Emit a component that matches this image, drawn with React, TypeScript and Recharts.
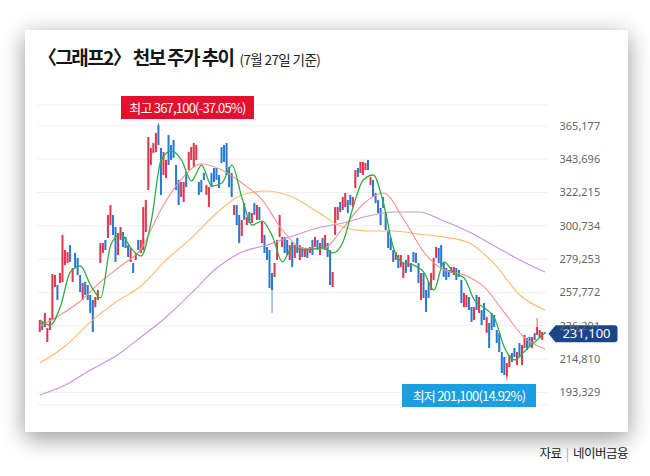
import React from 'react'
import {
  ComposedChart,
  Bar,
  Line,
  XAxis,
  YAxis,
  CartesianGrid,
  ReferenceLine,
} from 'recharts'

// daily candles, oldest first (KRW)
const candleOpen = [
  232200, 238700, 235400, 225800, 233500, 240000, 261200, 262500, 263800, 264500,
  275400, 276700, 288300, 264500, 283200, 280000, 269000, 252900, 264500, 262500,
  256100, 252900, 248300, 252900, 276700, 283200, 291600, 292900, 301200, 307700,
  299900, 281900, 291600, 296700, 293500, 288300, 277400, 276700, 278700, 291600,
  283200, 285100, 296700, 323800, 339900, 347700, 348300, 365700, 350900, 333500,
  331600, 359300, 352800, 356100, 339900, 330300, 319300, 316100, 335400, 336700,
  343200, 338600, 343200, 329000, 330300, 334800, 320600, 312800, 334800, 338000,
  338000, 333500, 351500, 352800, 354100, 338600, 334800, 307700, 314100, 307700,
  294100, 315400, 301200, 309600, 302500, 315400, 304500, 312800, 289600, 294800,
  287000, 285100, 270300, 267700, 278700, 293500, 287000, 293500, 291600, 278700,
  290300, 280000, 292900, 278700, 287000, 280600, 286400, 283200, 291600, 287000,
  291600, 281900, 292900, 285100, 289600, 285100, 261200, 294800, 304500, 316100,
  310900, 312800, 317400, 320600, 312800, 325100, 338000, 334800, 333500, 336700,
  343200, 327000, 330300, 321900, 317400, 312200, 319300, 309000, 298000, 292900,
  285100, 278700, 281900, 274100, 267100, 278700, 274100, 276700, 283800, 283200,
  276700, 252900, 270300, 259300, 264500, 259300, 265800, 280000, 286400, 288300,
  277400, 273500, 272200, 270300, 269000, 273500, 272200, 265800, 248300, 248300,
  254800, 248300, 240000, 256100, 244500, 246400, 250900, 231600, 238000, 244500,
  243200, 233500, 231600, 219300, 216100, 203500, 209600, 218700, 221900, 210900,
  225100, 210900, 221900, 228400, 229000, 221900, 231600, 230300, 228400, 227100,
  232200,
]
const candleHigh = [
  240000, 238700, 244500, 234800, 241300, 269600, 269000, 262500, 270300, 294800,
  285100, 283800, 288300, 273500, 283200, 280000, 269000, 263800, 264500, 262500,
  256100, 252900, 254800, 259300, 289600, 289600, 291600, 307700, 314100, 307700,
  299900, 296100, 299900, 296700, 293500, 288300, 286400, 276700, 283200, 291600,
  291600, 312800, 317400, 358000, 350900, 354100, 360600, 367100, 350900, 348300,
  343200, 359300, 352800, 356100, 339900, 330300, 329000, 329000, 335400, 348300,
  351500, 354100, 352800, 329000, 330300, 334800, 327000, 325700, 334800, 338000,
  338000, 333500, 351500, 352800, 354100, 338600, 334800, 314100, 314100, 307700,
  304500, 315400, 306400, 309600, 309000, 315400, 314100, 312800, 303200, 294800,
  287000, 285100, 270300, 276700, 291600, 307700, 293500, 293500, 291600, 288300,
  290300, 288300, 292900, 288300, 287000, 286400, 286400, 287000, 291600, 293500,
  291600, 289600, 292900, 294800, 289600, 285100, 270900, 312800, 312800, 316100,
  319300, 321900, 317400, 320600, 319300, 336700, 338000, 341900, 341900, 341200,
  343200, 332200, 330300, 321900, 317400, 312200, 319300, 309000, 298000, 292900,
  285100, 283800, 281900, 281900, 276700, 278700, 281900, 276700, 283800, 283200,
  276700, 270300, 270300, 259300, 264500, 270300, 280000, 287000, 286400, 288300,
  277400, 273500, 272200, 274100, 274100, 273500, 272200, 265800, 257400, 256100,
  254800, 248300, 248300, 256100, 254800, 246400, 250900, 241900, 238000, 244500,
  243200, 233500, 231600, 219300, 216100, 212200, 217400, 218700, 221900, 219300,
  225100, 223800, 230300, 228400, 229000, 229000, 231600, 241300, 233500, 232200,
  232200,
]
const candleLow = [
  232200, 233500, 235400, 225800, 233500, 240000, 261200, 252900, 263800, 264500,
  275400, 276700, 277400, 264500, 274100, 269000, 258000, 252900, 256100, 252900,
  244500, 232200, 248300, 252900, 276700, 283200, 285100, 292900, 301200, 294800,
  277400, 281900, 291600, 287000, 286400, 280600, 277400, 270300, 278700, 285100,
  283200, 285100, 296700, 323800, 339900, 347700, 348300, 352800, 320600, 333500,
  331600, 339900, 343200, 344500, 323800, 314100, 319300, 316100, 325700, 336700,
  343200, 338600, 343200, 320600, 322500, 330300, 320600, 312800, 325700, 329000,
  330300, 325100, 341200, 341900, 333500, 325700, 319300, 307700, 301200, 289600,
  294100, 304500, 301200, 302500, 302500, 307700, 304500, 304500, 289600, 283200,
  278700, 260600, 244500, 267700, 278700, 293500, 287000, 283200, 281900, 278700,
  274100, 280000, 283200, 278700, 280600, 280600, 280000, 283200, 281900, 287000,
  285100, 281900, 286400, 285100, 280600, 262500, 261200, 294800, 304500, 309600,
  310900, 312800, 309000, 314100, 312800, 325100, 332200, 334800, 333500, 336700,
  336700, 327000, 319300, 315400, 309000, 301200, 312200, 298000, 286400, 285100,
  277400, 278700, 273500, 274100, 267100, 270300, 274100, 270900, 277400, 276700,
  263800, 252900, 254200, 245100, 254200, 259300, 265800, 280000, 276700, 274100,
  267700, 265800, 267700, 270300, 269000, 265800, 267700, 250900, 248300, 248300,
  246400, 238700, 240000, 246400, 244500, 236700, 240000, 231600, 221900, 233500,
  235400, 225100, 219300, 205800, 204500, 201100, 209600, 212900, 216100, 210900,
  216100, 210900, 221900, 220600, 222500, 221900, 227100, 230300, 228400, 227100,
  231100,
]
const candleClose = [
  240000, 233500, 244500, 234800, 241300, 269600, 269000, 252900, 270300, 294800,
  285100, 283800, 277400, 273500, 274100, 269000, 258000, 263800, 256100, 252900,
  244500, 232200, 254800, 259300, 289600, 289600, 285100, 307700, 314100, 294800,
  277400, 296100, 299900, 287000, 286400, 280600, 286400, 270300, 283200, 285100,
  291600, 312800, 317400, 358000, 350900, 354100, 360600, 352800, 320600, 348300,
  343200, 339900, 343200, 344500, 323800, 314100, 329000, 329000, 325700, 348300,
  351500, 354100, 352800, 320600, 322500, 330300, 327000, 325700, 325700, 329000,
  330300, 325100, 341200, 341900, 333500, 325700, 319300, 314100, 301200, 289600,
  304500, 304500, 306400, 302500, 309000, 307700, 314100, 304500, 303200, 283200,
  278700, 260600, 259300, 276700, 291600, 307700, 293500, 283200, 281900, 288300,
  274100, 288300, 283200, 288300, 280600, 286400, 280000, 287000, 281900, 293500,
  285100, 289600, 286400, 294800, 280600, 262500, 270900, 312800, 312800, 309600,
  319300, 321900, 309000, 314100, 319300, 336700, 332200, 341900, 341900, 341200,
  336700, 332200, 319300, 315400, 309000, 301200, 312200, 298000, 286400, 285100,
  277400, 283800, 273500, 281900, 276700, 270300, 281900, 270900, 277400, 276700,
  263800, 270300, 254200, 245100, 254200, 270300, 280000, 287000, 276700, 274100,
  267700, 265800, 267700, 274100, 274100, 265800, 267700, 250900, 257400, 256100,
  246400, 238700, 248300, 246400, 254800, 236700, 240000, 241900, 221900, 233500,
  235400, 225100, 219300, 205800, 204500, 212200, 217400, 212900, 216100, 219300,
  216100, 223800, 230300, 220600, 222500, 229000, 227100, 235400, 233500, 232200,
  231100,
]

// moving averages, sampled every few trading days
const ma5 = [
  240000, 236700, 248300, 270900, 274800, 262500, 254200, 288300, 295400, 286400,
  281200, 303200, 343200, 349000, 343200, 329600, 339900, 326400, 328300, 339900,
  318700, 301200, 303800, 294100, 277400, 287000, 285100, 285800, 286400, 283200,
  290300, 312800, 330300, 333500, 315400, 286400, 276700, 275400, 270900, 259300,
  277400, 270300, 267100, 252900, 247700, 241300, 221900, 214200, 220000, 225800,
  231500,
]
const ma5Step = 4
const ma20 = [
  236100, 243200, 252200, 264500, 274800, 285800, 311600, 330900, 340600, 336700,
  328300, 317400, 298000, 286400, 285800, 299300, 314800, 321900, 305100, 283800,
  272200, 269000, 261200, 244500, 228400, 221300,
]
const ma20Step = 8
const ma60 = [
  212200, 223200, 238700, 251600, 261900, 278700, 292900, 309000, 320600, 323200,
  319300, 309600, 299900, 297400, 297400, 295400, 293500, 289600, 276100, 256100,
  246400,
]
const ma60Step = 10
const ma120 = [
  191600, 198000, 207700, 216700, 229000, 241900, 257400, 273500, 283800, 288300,
  294100, 299300, 302500, 307000, 309600, 309600, 303800, 296700, 287700, 278700,
  270900,
]
const ma120Step = 10

const yTicks = [193329, 214810, 236291, 257772, 279253, 300734, 322215, 343696, 365177]
const lastPrice = 231100
const highLabel = '최고 367,100(-37.05%)'
const lowLabel = '최저 201,100(14.92%)'

const UP = '#e5344b'
const DOWN = '#2a78d2'

const candles = candleOpen.map((o, i) => ({
  i,
  o,
  h: candleHigh[i],
  l: candleLow[i],
  c: candleClose[i],
}))

const toLine = (vals: number[], step: number) => vals.map((v, k) => ({ i: k * step, v }))

function Candle(props: any) {
  const { x, y, width, height, payload } = props
  if (x == null || !payload) return null
  const { o, h, l, c } = payload
  const top = Math.min(y, y + height)
  const span = Math.abs(height)
  const k = h === l ? 0 : span / (h - l)
  const yO = top + (h - o) * k
  const yC = top + (h - c) * k
  const color = c >= o ? UP : DOWN
  const cx = x + width / 2
  return (
    <g>
      <line x1={cx} x2={cx} y1={top} y2={top + span} stroke={color} strokeWidth={0.8} />
      <rect
        x={x}
        y={Math.min(yO, yC)}
        width={width}
        height={Math.max(1, Math.abs(yC - yO))}
        fill={color}
      />
    </g>
  )
}

function PriceTag(props: any) {
  const vb = props.viewBox
  if (!vb) return null
  const tip = vb.x + vb.width + 1
  const y = vb.y
  const r = tip + 69
  const d = `M${tip},${y} L${tip + 7},${y - 8.5} L${r - 3},${y - 8.5} Q${r},${y - 8.5} ${r},${y - 5.5} L${r},${y + 5.5} Q${r},${y + 8.5} ${r - 3},${y + 8.5} L${tip + 7},${y + 8.5} Z`
  return (
    <g>
      <path d={d} fill="#1b4587" />
      <text
        x={tip + 38}
        y={y}
        dy="0.36em"
        textAnchor="middle"
        fill="#fff"
        fontSize={13}
        fontFamily="'Noto Sans', sans-serif"
      >
        {lastPrice.toLocaleString('en-US')}
      </text>
    </g>
  )
}

export default function App() {
  const font = "'Noto Sans CJK KR', 'Noto Sans', sans-serif"
  return (
    <div
      style={{
        position: 'fixed',
        left: 0,
        top: 0,
        width: 650,
        height: 476,
        background: '#fff',
        overflow: 'hidden',
        fontFamily: font,
      }}
    >
      <div
        style={{
          position: 'absolute',
          left: 25,
          top: 30,
          width: 603,
          height: 402,
          background: '#fff',
          boxShadow: '0 6px 22px rgba(0,0,0,0.42)',
        }}
      />
      <div
        style={{
          position: 'absolute',
          left: 38,
          top: 45,
          fontSize: 19,
          fontWeight: 700,
          letterSpacing: -1.6,
          color: '#151515',
          lineHeight: '24px',
          whiteSpace: 'nowrap',
        }}
      >
        〈그래프2〉 천보 주가 추이
        <span style={{ fontSize: 13.5, fontWeight: 400, letterSpacing: -0.6, marginLeft: 6, color: '#222' }}>
          (7월 27일 기준)
        </span>
      </div>

      <div style={{ position: 'absolute', left: 0, top: 0 }}>
        <ComposedChart
          width={650}
          height={476}
          data={candles}
          margin={{ top: 105, right: 22.5, bottom: 71, left: 37.5 }}
        >
          <CartesianGrid vertical={false} stroke="#efefef" />
          <XAxis dataKey="i" type="number" domain={[-1, 201]} allowDataOverflow hide />
          <YAxis
            orientation="right"
            width={80}
            domain={[185138, 378638]}
            allowDataOverflow
            ticks={yTicks}
            axisLine={false}
            tickLine={false}
            tickSize={0}
            tickMargin={12}
            tick={{ fill: '#666', fontSize: 11, fontFamily: "'Noto Sans', sans-serif" }}
            tickFormatter={(v: number) => v.toLocaleString('en-US')}
          />
          <Bar
            dataKey={(d: any) => [d.l, d.h]}
            barSize={2}
            shape={<Candle />}
            isAnimationActive={false}
          />
          <Line data={toLine(ma120, ma120Step)} dataKey="v" type="monotone" stroke="#c993df" strokeWidth={1.1} dot={false} isAnimationActive={false} />
          <Line data={toLine(ma60, ma60Step)} dataKey="v" type="monotone" stroke="#ffb96f" strokeWidth={1.1} dot={false} isAnimationActive={false} />
          <Line data={toLine(ma20, ma20Step)} dataKey="v" type="monotone" stroke="#f4918f" strokeWidth={1.1} dot={false} isAnimationActive={false} />
          <Line data={toLine(ma5, ma5Step)} dataKey="v" type="monotone" stroke="#2fae45" strokeWidth={1.3} dot={false} isAnimationActive={false} />
          <ReferenceLine y={lastPrice} strokeOpacity={0} ifOverflow="visible" label={<PriceTag />} />
        </ComposedChart>
      </div>

      <div
        style={{
          position: 'absolute',
          left: 121,
          top: 96,
          width: 133,
          height: 23,
          background: '#e50f2e',
          color: '#fff',
          fontSize: 13,
          letterSpacing: -0.8,
          lineHeight: '23px',
          textAlign: 'center',
          whiteSpace: 'nowrap',
        }}
      >
        {highLabel}
      </div>
      <div
        style={{
          position: 'absolute',
          left: 402,
          top: 384,
          width: 134,
          height: 23,
          background: '#199fe2',
          color: '#fff',
          fontSize: 13,
          letterSpacing: -0.8,
          lineHeight: '23px',
          textAlign: 'center',
          whiteSpace: 'nowrap',
        }}
      >
        {lowLabel}
      </div>
      <div
        style={{
          position: 'absolute',
          right: 22,
          top: 443,
          fontSize: 12.5,
          color: '#222',
          letterSpacing: -0.5,
          whiteSpace: 'nowrap',
        }}
      >
        자료 <span style={{ color: '#aaa', margin: '0 2px' }}>|</span> 네이버금융
      </div>
    </div>
  )
}
